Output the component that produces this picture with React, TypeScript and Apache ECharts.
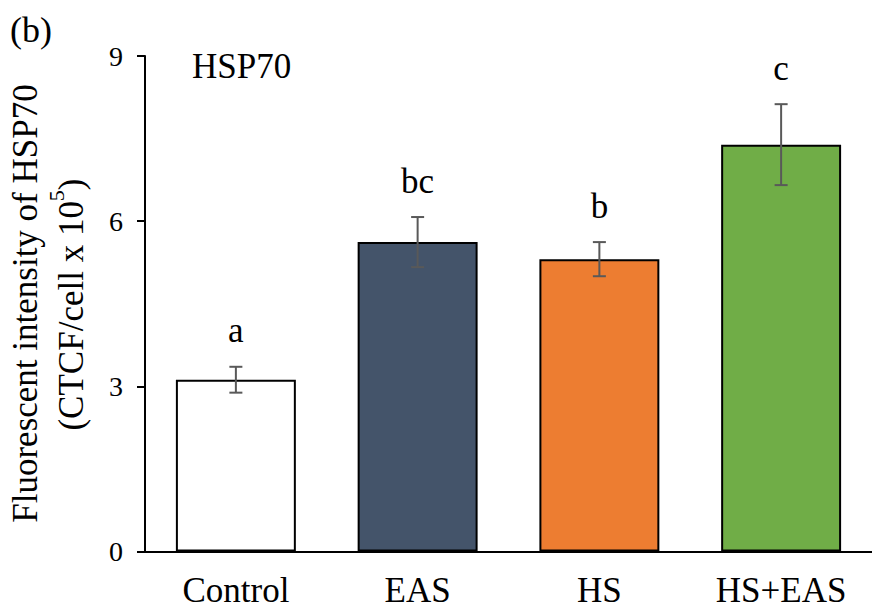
import React, { useEffect, useRef } from "react";
import * as echarts from "echarts";

const categories = ["Control", "EAS", "HS", "HS+EAS"];
const means = [3.12, 5.62, 5.31, 7.39];
const sds = [0.235, 0.455, 0.31, 0.735];
const letters = ["a", "bc", "b", "c"];
const barColors = ["#FFFFFF", "#44546A", "#ED7D31", "#70AD47"];
const yTicks = [0, 3, 6, 9];

const FONT = "Liberation Serif";

export default function App() {
  const ref = useRef<HTMLDivElement>(null);
  useEffect(() => {
    if (!ref.current) return;
    const chart = echarts.init(ref.current, null, { renderer: "svg" });
    const option: any = {
      animation: false,
      grid: { left: 145, right: -7, top: 56, bottom: 56.5 },
      xAxis: {
        type: "category",
        data: categories,
        axisLine: { lineStyle: { color: "#000", width: 2 } },
        axisTick: { length: 10, lineStyle: { color: "#000", width: 2 }, interval: 0 },
        axisLabel: { color: "#000", fontSize: 35, fontFamily: FONT, margin: 21, interval: 0 },
        splitLine: { show: false },
      },
      yAxis: {
        type: "value",
        min: yTicks[0],
        max: yTicks[yTicks.length - 1],
        interval: 3,
        axisLine: { show: true, lineStyle: { color: "#000", width: 2 } },
        axisTick: { show: true, length: 8, lineStyle: { color: "#000", width: 2 } },
        axisLabel: { color: "#000", fontSize: 28, fontFamily: FONT, margin: 22 },
        splitLine: { show: false },
      },
      series: [
        {
          type: "bar",
          barWidth: "66%",
          data: means.map((v, i) => ({
            value: v,
            itemStyle: { color: barColors[i], borderColor: "#000", borderWidth: 2 },
          })),
        },
        {
          type: "custom",
          data: means.map((m, i) => [i, m, sds[i]]),
          z: 10,
          renderItem: (params: any, api: any) => {
            const i = api.value(0);
            const m = api.value(1);
            const s = api.value(2);
            const top = api.coord([i, m + s]);
            const bot = api.coord([i, m - s]);
            const x = top[0];
            const half = 6.5;
            const st = { stroke: "#595959", lineWidth: 2 };
            return {
              type: "group",
              children: [
                { type: "line", shape: { x1: x, y1: top[1], x2: x, y2: bot[1] }, style: st },
                { type: "line", shape: { x1: x - half, y1: top[1], x2: x + half, y2: top[1] }, style: st },
                { type: "line", shape: { x1: x - half, y1: bot[1], x2: x + half, y2: bot[1] }, style: st },
                {
                  type: "text",
                  x: x,
                  y: top[1] - 36,
                  style: {
                    text: letters[i],
                    fontSize: 35,
                    fontFamily: FONT,
                    fill: "#000",
                    textAlign: "center",
                    textVerticalAlign: "middle",
                  },
                },
              ],
            };
          },
        },
      ],
      graphic: [
        {
          type: "text",
          x: 10,
          y: 30,
          style: { text: "(b)", fontSize: 36, fontFamily: FONT, fill: "#000", textAlign: "left", textVerticalAlign: "middle" },
        },
        {
          type: "text",
          x: 192,
          y: 66.5,
          style: { text: "HSP70", fontSize: 35, fontFamily: FONT, fill: "#000", textAlign: "left", textVerticalAlign: "middle" },
        },
        {
          type: "text",
          x: 25.5,
          y: 303.5,
          rotation: Math.PI / 2,
          style: {
            text: "Fluorescent intensity of HSP70",
            fontSize: 35,
            fontFamily: FONT,
            fill: "#000",
            textAlign: "center",
            textVerticalAlign: "middle",
          },
        },
        {
          type: "text",
          x: 71.5,
          y: 304.5,
          rotation: Math.PI / 2,
          style: {
            text: "{a|(CTCF/cell x 10}{s|5}{a|)}",
            fontFamily: FONT,
            fill: "#000",
            textAlign: "center",
            textVerticalAlign: "middle",
            rich: {
              a: { fontSize: 35, fontFamily: FONT, fill: "#000", lineHeight: 52 },
              s: { fontSize: 22, fontFamily: FONT, fill: "#000", lineHeight: 10, verticalAlign: "top" },
            },
          },
        },
      ],
    };
    chart.setOption(option);
    return () => chart.dispose();
  }, []);
  return (
    <div
      ref={ref}
      style={{ position: "fixed", left: 0, top: 0, width: 872, height: 608, background: "#fff" }}
    />
  );
}
